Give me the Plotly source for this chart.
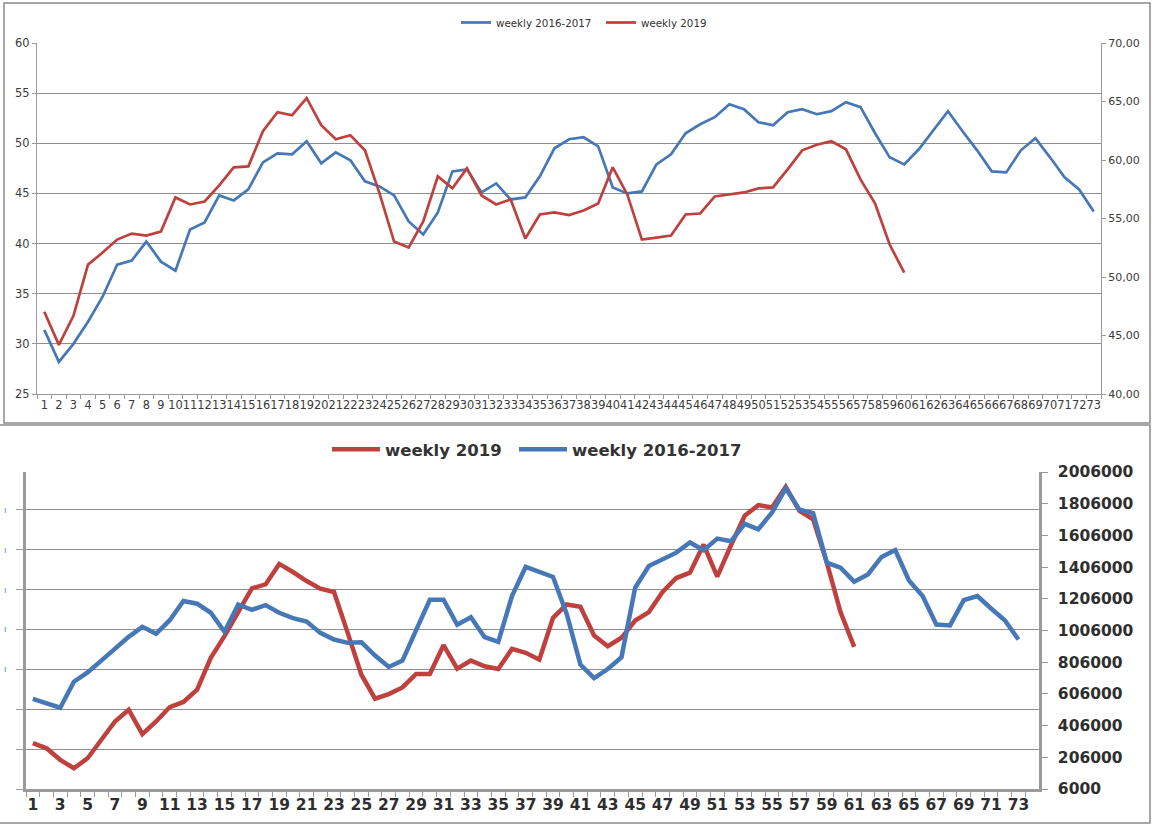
import plotly.graph_objects as go

# ---------------- data ----------------
weeks = [str(w) for w in range(1, 74)]

# top chart (left-axis units)
top_2016_2017 = [31.4, 28.2, 30.0, 32.2, 34.7, 37.9, 38.3, 40.2, 38.2, 37.3,
                 41.4, 42.1, 44.8, 44.3, 45.4, 48.1, 49.0, 48.9, 50.2, 48.0,
                 49.1, 48.3, 46.2, 45.7, 44.8, 42.2, 40.9, 43.1, 47.2, 47.4,
                 45.1, 46.0, 44.4, 44.6, 46.7, 49.5, 50.4, 50.6, 49.7, 45.6,
                 45.0, 45.2, 47.9, 48.9, 51.0, 51.9, 52.6, 53.9, 53.4, 52.1,
                 51.8, 53.1, 53.4, 52.9, 53.2, 54.1, 53.6, 51.0, 48.6, 47.9,
                 49.4, 51.3, 53.2, 51.2, 49.3, 47.2, 47.1, 49.3, 50.5, 48.6,
                 46.6, 45.4, 43.2]
top_2019 = [33.2, 29.9, 32.8, 37.9, 39.1, 40.4, 41.0, 40.8, 41.2, 44.6,
            43.9, 44.2, 45.8, 47.6, 47.7, 51.2, 53.1, 52.8, 54.5, 51.8,
            50.4, 50.8, 49.3, 45.0, 40.2, 39.6, 42.2, 46.7, 45.5, 47.5,
            44.8, 43.9, 44.4, 40.5, 42.9, 43.1, 42.85, 43.3, 44.0, 47.6,
            44.9, 40.4, 40.6, 40.8, 42.9, 43.0, 44.7, 44.9, 45.1, 45.5,
            45.6, 47.4, 49.3, 49.85, 50.2, 49.4, 46.4, 44.0, 39.9, 37.1]

# bottom chart (right-axis units)
bot_2019 = [295000, 263000, 190000, 137000, 200000, 322000, 432000, 506000, 352000, 432000,
            523000, 555000, 633000, 833000, 970000, 1122000, 1272000, 1297000, 1426000, 1375000,
            1318000, 1270000, 1249000, 991000, 727000, 576000, 605000, 647000, 732000, 732000,
            913000, 765000, 816000, 780000, 763000, 890000, 865000, 822000, 1086000, 1170000,
            1156000, 974000, 907000, 960000, 1069000, 1122000, 1249000, 1337000, 1371000, 1548000,
            1346000, 1544000, 1730000, 1797000, 1782000, 1913000, 1761000, 1708000, 1434000, 1122000,
            903000]
bot_2016_2017 = [574000, 546000, 519000, 683000, 742000, 816000, 890000, 966000, 1029000, 985000,
                 1071000, 1192000, 1175000, 1118000, 998000, 1170000, 1137000, 1166000, 1118000, 1084000,
                 1063000, 991000, 949000, 928000, 932000, 848000, 776000, 816000, 1008000, 1200000,
                 1200000, 1042000, 1090000, 964000, 934000, 1223000, 1407000, 1375000, 1344000, 1110000,
                 791000, 706000, 763000, 837000, 1276000, 1413000, 1455000, 1497000, 1561000, 1512000,
                 1586000, 1569000, 1679000, 1645000, 1751000, 1903000, 1768000, 1747000, 1434000, 1403000,
                 1314000, 1360000, 1470000, 1514000, 1322000, 1223000, 1044000, 1038000, 1198000, 1223000,
                 1145000, 1071000, 949000]

top_left_ticks = [25, 30, 35, 40, 45, 50, 55, 60]
top_right_ticks = [40, 45, 50, 55, 60, 65, 70]
bot_right_ticks = [6000, 206000, 406000, 606000, 806000, 1006000, 1206000, 1406000, 1606000, 1806000, 2006000]
bot_left_ticks = [0, 1, 2, 3, 4, 5, 6, 7]
bot_left_text = ["", "", "", "ı", "ı", "ı", "ı", "ı"]
bot_x_text = [w if int(w) % 2 == 1 else "" for w in weeks]

BLUE = "#4677b6"
RED = "#be413d"
GRID = "#8e8e8e"
AXIS = "#9a9a9a"

W, H = 1158, 828
def px(x):
    return x / W
def py(y):
    return 1 - y / H

fig = go.Figure()

# ---- top chart ----
fig.add_trace(go.Scatter(x=weeks[:len(top_2016_2017)], y=top_2016_2017, mode="lines",
                         name="weekly 2016-2017", line=dict(color=BLUE, width=2.7),
                         xaxis="x", yaxis="y", legend="legend"))
fig.add_trace(go.Scatter(x=weeks[:len(top_2019)], y=top_2019, mode="lines",
                         name="weekly 2019", line=dict(color=RED, width=2.7),
                         xaxis="x", yaxis="y", legend="legend4"))
fig.add_trace(go.Scatter(x=[weeks[0]], y=[None], mode="lines", showlegend=False,
                         hoverinfo="skip", xaxis="x", yaxis="y2"))

# ---- bottom chart ----
fig.add_trace(go.Scatter(x=[weeks[0]], y=[None], mode="lines", showlegend=False,
                         hoverinfo="skip", xaxis="x2", yaxis="y3"))
fig.add_trace(go.Scatter(x=weeks[:len(bot_2019)], y=bot_2019, mode="lines",
                         name="weekly 2019", line=dict(color=RED, width=4.5),
                         xaxis="x2", yaxis="y4", legend="legend2"))
fig.add_trace(go.Scatter(x=weeks[:len(bot_2016_2017)], y=bot_2016_2017, mode="lines",
                         name="weekly 2016-2017", line=dict(color=BLUE, width=4.5),
                         xaxis="x2", yaxis="y4", legend="legend3"))

top_font = dict(family="DejaVu Sans", size=11.4, color="#3a3a3a")
bot_font = dict(family="DejaVu Sans", size=15.5, color="#2e2e2e", weight="bold")
top_legend_font = dict(family="DejaVu Sans", size=10.3, color="#333333")
bot_legend_font = dict(family="DejaVu Sans", size=16.5, color="#333333", weight="bold")

fig.update_layout(
    template="none",
    width=W, height=H, autosize=False,
    margin=dict(l=0, r=0, t=0, b=0, pad=0),
    paper_bgcolor="white", plot_bgcolor="rgba(0,0,0,0)",
    separators=",.",
    font=dict(family="DejaVu Sans", color="#333333"),
    xaxis=dict(domain=[px(37), px(1101)], anchor="y", type="category", automargin=False,
               categoryorder="array", categoryarray=weeks, range=[-0.5, 72.5],
               tickmode="array", tickvals=weeks, ticktext=weeks, tickangle=0,
               tickson="boundaries", ticks="outside", ticklen=4, tickcolor=AXIS,
               showline=True, linecolor=AXIS, linewidth=1.2, showgrid=False,
               tickfont=top_font),
    yaxis=dict(domain=[py(394), py(43)], anchor="x", range=[25, 60], automargin=False,
               tickmode="array", tickvals=top_left_ticks,
               showgrid=True, gridcolor=GRID, gridwidth=1.2, zeroline=False,
               showline=True, linecolor=AXIS, linewidth=1.2,
               ticks="outside", ticklen=4, tickcolor=AXIS, tickfont=top_font),
    yaxis2=dict(overlaying="y", side="right", anchor="x", range=[40, 70], automargin=False,
                tickmode="array", tickvals=top_right_ticks, tickformat=".2f",
                showgrid=False, zeroline=False, showline=True, linecolor=AXIS, linewidth=1.2,
                ticks="outside", ticklen=4, tickcolor=AXIS,
                tickfont=dict(family="DejaVu Sans", size=11, color="#3a3a3a")),
    xaxis2=dict(domain=[px(26), px(1039)], anchor="y3", type="category", automargin=False,
                categoryorder="array", categoryarray=weeks, range=[-0.5, 73.5],
                tickmode="array", tickvals=weeks, ticktext=bot_x_text, tickangle=0,
                tickson="boundaries", ticks="outside", ticklen=5, tickcolor=AXIS,
                showline=True, linecolor=AXIS, linewidth=2.5, showgrid=False,
                tickfont=bot_font),
    yaxis3=dict(domain=[py(789), py(472)], anchor="x2", range=[0, 7.94], automargin=False,
                tickmode="array", tickvals=bot_left_ticks, ticktext=bot_left_text,
                showgrid=True, gridcolor=GRID, gridwidth=1.2, zeroline=False,
                showline=True, linecolor=AXIS, linewidth=2.5,
                ticks="outside", ticklen=7, tickcolor=AXIS, ticklabelstandoff=8,
                tickfont=dict(family="DejaVu Sans", size=9, color="#4f8fd0")),
    yaxis4=dict(overlaying="y3", side="right", anchor="x2", range=[6000, 2006000], automargin=False,
                tickmode="array", tickvals=bot_right_ticks, tickformat="d",
                showgrid=False, zeroline=False, showline=True, linecolor=AXIS, linewidth=2.5,
                ticks="outside", ticklen=6, tickcolor=AXIS, ticklabelstandoff=7,
                tickfont=bot_font),
    legend=dict(orientation="h", x=px(456), y=py(8), xanchor="left", yanchor="top",
                font=top_legend_font, bgcolor="rgba(0,0,0,0)"),
    legend4=dict(orientation="h", x=px(601), y=py(8), xanchor="left", yanchor="top",
                 font=top_legend_font, bgcolor="rgba(0,0,0,0)"),
    legend2=dict(orientation="h", x=px(327), y=py(432), xanchor="left", yanchor="top",
                 font=bot_legend_font, bgcolor="rgba(0,0,0,0)", itemwidth=48),
    legend3=dict(orientation="h", x=px(514), y=py(432), xanchor="left", yanchor="top",
                 font=bot_legend_font, bgcolor="rgba(0,0,0,0)", itemwidth=48),
    showlegend=True,
    shapes=[
        dict(type="rect", xref="paper", yref="paper", x0=px(4), x1=px(1150), y0=py(423), y1=py(3),
             line=dict(color="#8a8a8a", width=1.5), layer="below"),
        dict(type="rect", xref="paper", yref="paper", x0=px(-3), x1=px(1150), y0=py(823), y1=py(425),
             line=dict(color="#8a8a8a", width=1.5), layer="below"),
    ],
)

fig.write_html("out.html", config={"displayModeBar": False},
               post_script="document.body.style.margin='0px';")
